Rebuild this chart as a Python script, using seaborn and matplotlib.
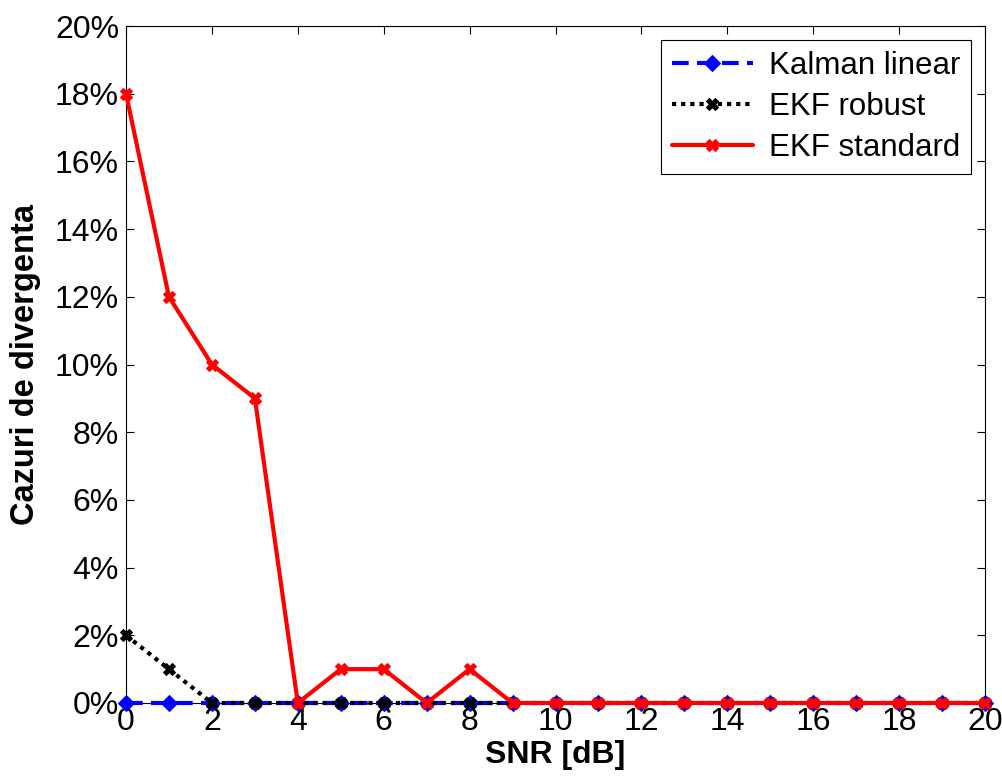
import numpy as np
import pandas as pd
import matplotlib
matplotlib.use("Agg")
import matplotlib.pyplot as plt
import seaborn as sns
from matplotlib.ticker import FuncFormatter

snr = list(range(21))
kalman_linear = [0]*21
ekf_robust = [2, 1] + [0]*19
ekf_standard = [18, 12, 10, 9, 0, 1, 1, 0, 1] + [0]*12

sns.set_style("ticks")
plt.rcParams['font.family'] = ['Liberation Sans', 'DejaVu Sans']
plt.rcParams['xtick.direction'] = 'in'
plt.rcParams['ytick.direction'] = 'in'
plt.rcParams['text.color'] = 'black'
plt.rcParams['axes.labelcolor'] = 'black'
plt.rcParams['xtick.color'] = 'black'
plt.rcParams['ytick.color'] = 'black'

fig = plt.figure(figsize=(10.03, 7.81), dpi=100)
ax = fig.add_axes([126/1003, 78/781, 859/1003, 677/781])

df = pd.DataFrame({"snr": snr, "kl": kalman_linear, "er": ekf_robust, "es": ekf_standard})

sns.lineplot(data=df, x="snr", y="kl", ax=ax, color="#0000ff", linestyle=(0, (4, 2)),
             linewidth=3, marker="D", markersize=8, markeredgecolor="#0000ff",
             label="Kalman linear", clip_on=False, zorder=3)
sns.lineplot(data=df, x="snr", y="er", ax=ax, color="black", linestyle=(0, (1, 1.2)),
             linewidth=3, marker="X", markersize=8, markeredgecolor="black",
             label="EKF robust", clip_on=False, zorder=4)
sns.lineplot(data=df, x="snr", y="es", ax=ax, color="#ff0000", linestyle="-",
             linewidth=3, marker="X", markersize=8, markeredgecolor="#ff0000",
             label="EKF standard", clip_on=False, zorder=5)

ax.set_xlim(0, 20)
ax.set_ylim(0, 20)
ax.set_xticks(range(0, 21, 2))
ax.set_yticks(range(0, 21, 2))
ax.yaxis.set_major_formatter(FuncFormatter(lambda v, p: f"{int(v)}%"))
ax.tick_params(labelsize=23, length=6, width=0.8, top=True, right=True,
               colors="black", labelcolor="black")
ax.tick_params(axis="y", pad=5)
ax.tick_params(axis="x", pad=3)
for s in ax.spines.values():
    s.set_visible(True)
    s.set_linewidth(0.8)
    s.set_color("black")

ax.set_xlabel("SNR [dB]", fontsize=23, fontweight="bold", labelpad=2, color="black")
ax.set_ylabel("Cazuri de divergenta", fontsize=23.5, fontweight="bold", labelpad=10,
              color="black")

leg = ax.legend(loc="upper right", fontsize=22.5, frameon=True, fancybox=False,
                edgecolor="black", framealpha=1, borderaxespad=0.45,
                handlelength=2.6, labelspacing=0.35, borderpad=0.35, handletextpad=0.5)
leg.get_frame().set_linewidth(0.8)
for t in leg.get_texts():
    t.set_color("black")

fig.savefig("out.png", dpi=100)
